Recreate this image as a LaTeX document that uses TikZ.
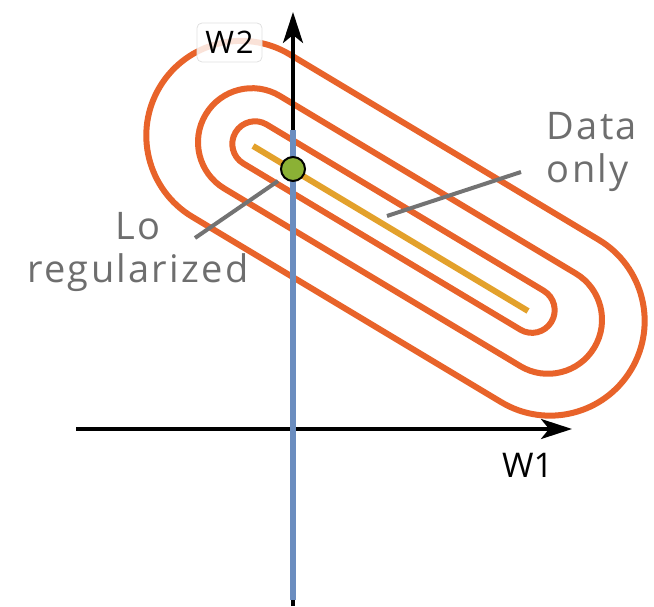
\documentclass[tikz,border=0pt]{standalone}
\usepackage{fontspec}
\newfontfamily\hand{Open Sans}
\newfontfamily\handwide[LetterSpace=6]{Open Sans}
\usetikzlibrary{arrows.meta}
\definecolor{contour}{HTML}{E8632A}
\definecolor{gold}{HTML}{E3A12B}
\definecolor{bluel}{HTML}{6B8DBF}
\definecolor{olive}{HTML}{8BB135}
\definecolor{leader}{HTML}{737373}
\definecolor{txtgray}{HTML}{6E6E6E}
\newcommand{\wtwofont}{\handwide\fontsize{31}{33}\selectfont}
\tikzset{
  capsule/.style={draw=contour, line width=6pt},
  axis/.style={line width=3.5pt, -{Stealth[length=31pt, width=20pt, inset=8pt]}},
  leadline/.style={draw=leader, line width=4pt},
  handtext/.style={font=\handwide\fontsize{38}{43}\selectfont, text=txtgray, align=center, inner sep=0pt},
  axlabel/.style={font=\hand\fontsize{34}{36}\selectfont, text=black, inner sep=0pt},
  w2box/.style={draw=black!12, line width=0.8pt, fill=white, fill opacity=0.82,
    rounded corners=5pt, minimum width=65pt, minimum height=39pt, inner sep=0pt}
}
\newcommand{\capsuleshape}[3]{% start point, radius, length
  \draw[capsule] (#1) ++(59.04:#2) -- ++(-30.96:#3)
    arc[start angle=59.04, delta angle=-180, radius=#2]
    -- ++(149.04:#3)
    arc[start angle=-120.96, delta angle=-180, radius=#2] -- cycle;
}
\begin{document}
\begin{tikzpicture}[x=1pt, y=1pt]
\useasboundingbox (0,0) rectangle (654,606);
% capsule centre-line start points
\coordinate (cin) at (255,462);
\coordinate (cmid) at (252,463.8);
\coordinate (cout) at (241,470.4);
\capsuleshape{cout}{94.7}{360.3}
\capsuleshape{cmid}{54}{345.2}
\capsuleshape{cin}{22.7}{323}
% data-only solution segment
\coordinate (ys) at (253,460);
\coordinate (ye) at (528,295);
\draw[gold, line width=6pt] (ys) -- (ye);
% axes
\coordinate (vb) at (293,0);
\coordinate (vt) at (293,594);
\coordinate (hl) at (76,177);
\coordinate (hr) at (572,177);
\draw[axis] (hl) -- (hr);
\draw[axis] (vb) -- (vt);
% L0 line
\coordinate (bt) at (293,476);
\coordinate (bb) at (293,6);
\draw[bluel, line width=6pt] (bb) -- (bt);
% leader lines
\coordinate (l1a) at (195,368);
\coordinate (l1b) at (278,425);
\coordinate (l2a) at (387,390);
\coordinate (l2b) at (521,434);
\draw[leadline] (l1a) -- (l1b);
\draw[leadline] (l2a) -- (l2b);
% solution dot
\node[circle, draw=black, line width=2pt, fill=olive, minimum size=24pt, inner sep=0pt] (dot) at (293,437) {};
% labels
\node[w2box] (w2) at (229.5,563.5) {};
\node[inner sep=0pt] (w2t) at (w2.center) {\wtwofont W2};
\node[axlabel] (w1) at (527.5,140.5) {W1};
\node[handtext, align=left] (data) at (592,454) {Data\\only};
\node[handtext] (lo) at (138,354) {Lo\\regularized};
\end{tikzpicture}
\end{document}
